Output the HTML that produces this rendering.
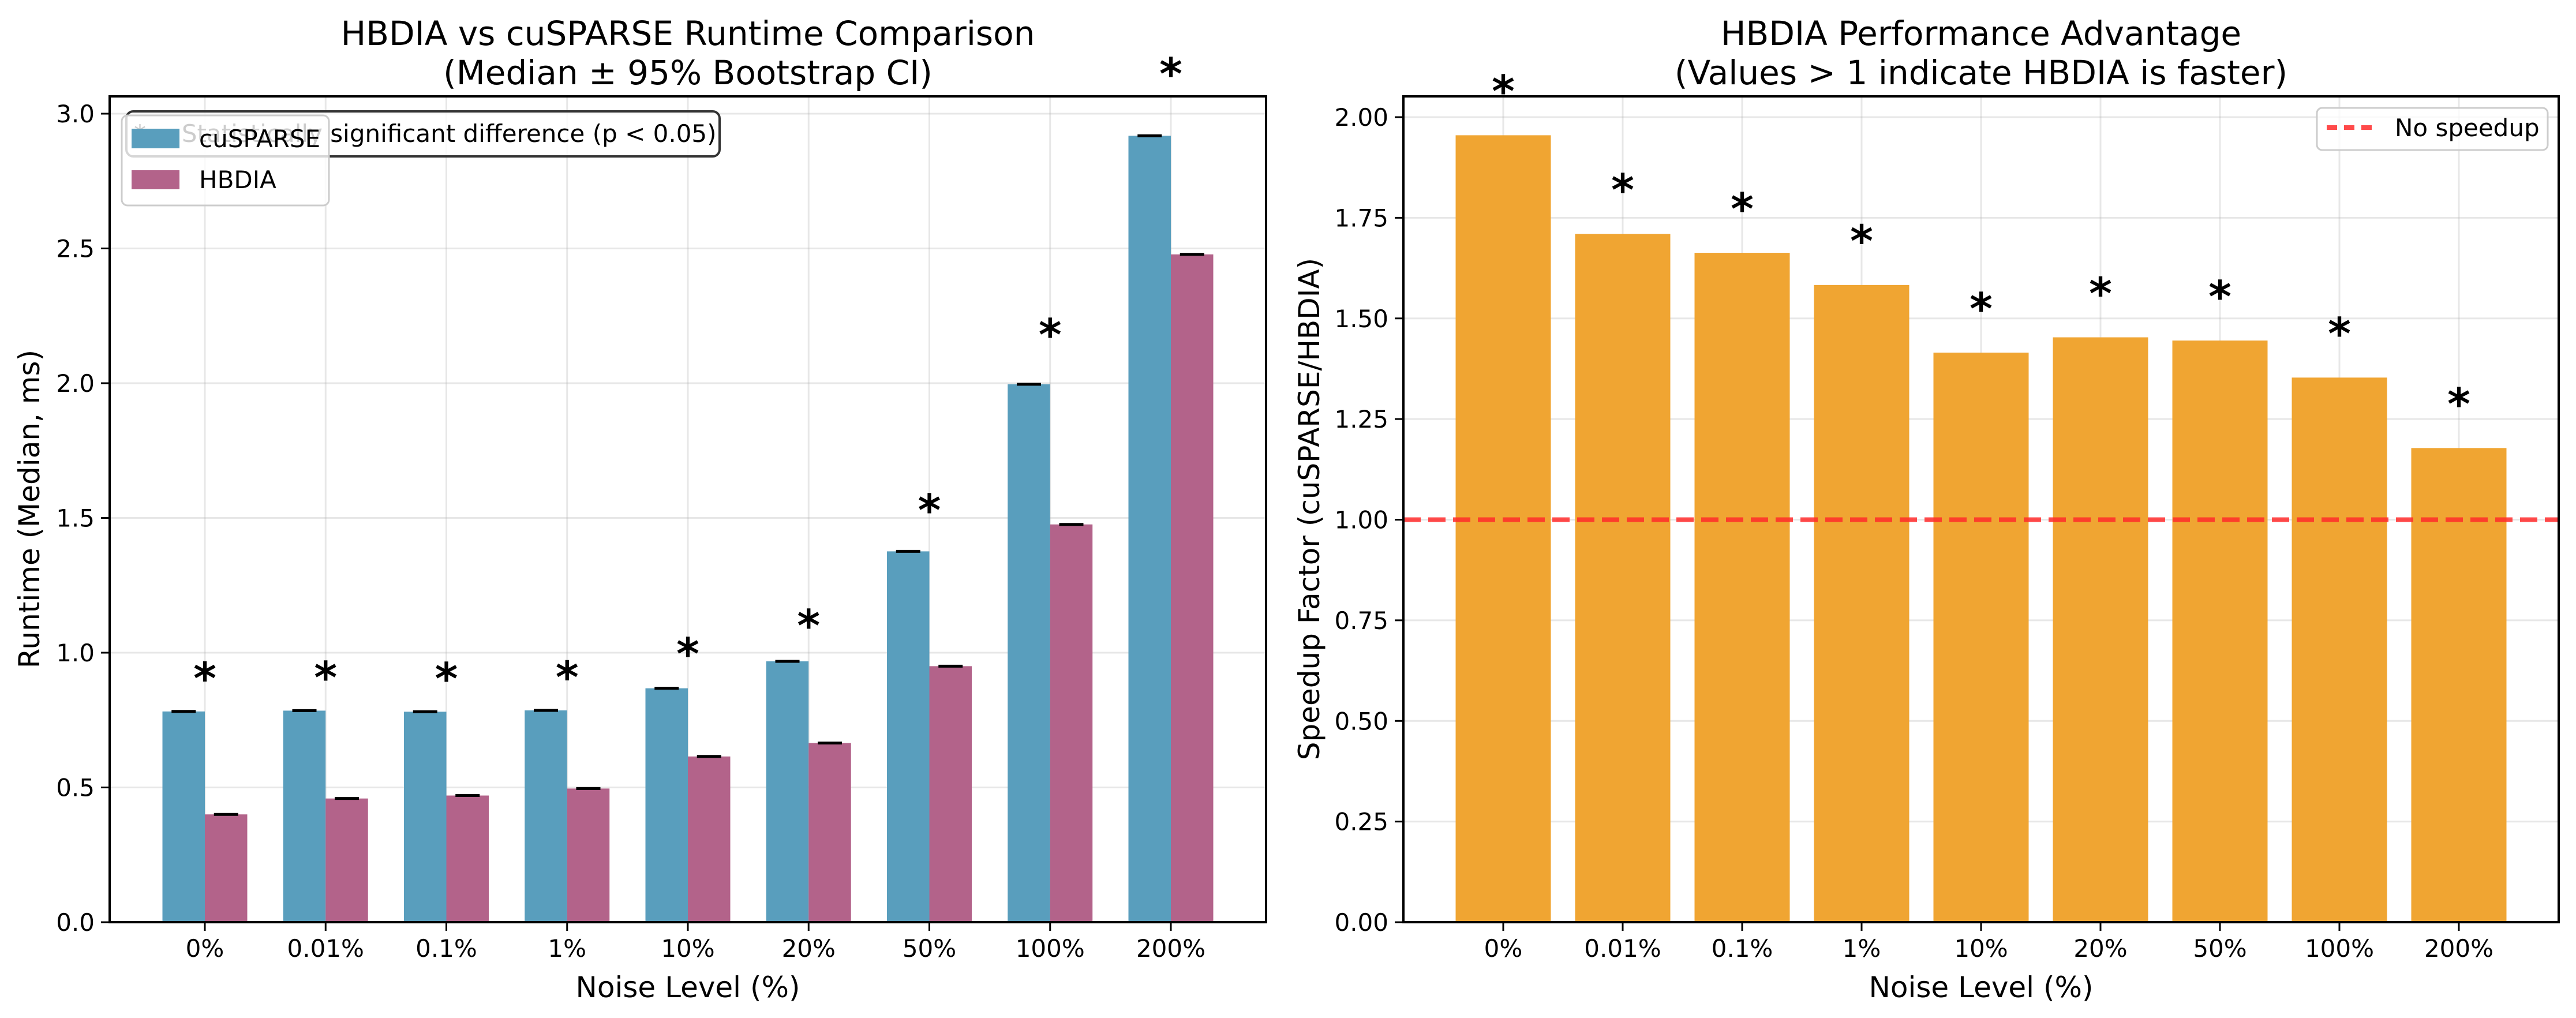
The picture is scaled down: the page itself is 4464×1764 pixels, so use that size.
<!DOCTYPE html>
<html><head><meta charset="utf-8"><style>
html,body{margin:0;padding:0;background:#fff;}
svg{display:block;font-family:"DejaVu Sans","Liberation Sans",sans-serif;}
</style></head><body>
<svg id="fig" width="4464" height="1764" viewBox="0 0 4464 1764" xmlns="http://www.w3.org/2000/svg">
<rect width="4464" height="1764" fill="#fff"/>
<g id="left"></g>
<g id="right"></g>
</svg>
<script>
const categories = ["0%","0.01%","0.1%","1%","10%","20%","50%","100%","200%"];
const cusparseValues = [0.782,0.785,0.781,0.786,0.868,0.968,1.376,1.996,2.918];
const hbdiaValues = [0.400,0.459,0.470,0.496,0.615,0.665,0.950,1.476,2.478];
const speedupValues = [1.955,1.710,1.663,1.583,1.415,1.453,1.445,1.353,1.178];
const leftTicks = [0.0,0.5,1.0,1.5,2.0,2.5,3.0];
const leftTickLabels = ["0.0","0.5","1.0","1.5","2.0","2.5","3.0"];
const rightTicks = [0,0.25,0.5,0.75,1.0,1.25,1.5,1.75,2.0];
const rightTickLabels = ["0.00","0.25","0.50","0.75","1.00","1.25","1.50","1.75","2.00"];
const baselineValue = 1.0;

const NS = "http://www.w3.org/2000/svg";
function mk(parent, tag, attrs, text){
  const e = document.createElementNS(NS, tag);
  for (const k in attrs) e.setAttribute(k, attrs[k]);
  if (text !== undefined) e.textContent = text;
  parent.appendChild(e);
  return e;
}
const BOTTOM = 1598, TOP = 167;

// ---------- LEFT ----------
(function(){
  const g = document.getElementById('left');
  const L = 190, R = 2194;
  const x = i => 355 + i * 209.25;
  const y = v => BOTTOM - v * 467;
  const bw = 73.5;
  leftTicks.forEach(t => {
    const l = mk(g,'line',{x1:L,x2:R,y1:y(t),y2:y(t),stroke:'#b0b0b0','stroke-opacity':0.3,'stroke-width':3});
    
    
  });
  categories.forEach((c,i) => {
    const l = mk(g,'line',{x1:x(i),x2:x(i),y1:TOP,y2:BOTTOM,stroke:'#b0b0b0','stroke-opacity':0.3,'stroke-width':3});
    
    
  });
  categories.forEach((c,i) => {
    const b1 = mk(g,'rect',{x:x(i)-bw,y:y(cusparseValues[i]),width:bw,height:BOTTOM-y(cusparseValues[i]),fill:'#599ebd'});
    
    
    const b2 = mk(g,'rect',{x:x(i),y:y(hbdiaValues[i]),width:bw,height:BOTTOM-y(hbdiaValues[i]),fill:'#b3638a'});
    
    
    const e1 = mk(g,'line',{x1:x(i)-bw/2-21,x2:x(i)-bw/2+21,y1:y(cusparseValues[i]),y2:y(cusparseValues[i]),stroke:'#000','stroke-width':5});
    
    
    const e2 = mk(g,'line',{x1:x(i)+bw/2-21,x2:x(i)+bw/2+21,y1:y(hbdiaValues[i]),y2:y(hbdiaValues[i]),stroke:'#000','stroke-width':5});
    
    
    const m = Math.max(cusparseValues[i],hbdiaValues[i]);
    const s = mk(g,'text',{x:x(i),y:y(m*1.05+0.1)+34,'text-anchor':'middle','font-size':76,'font-weight':'bold'},'*');
    
    
  });
  const sp = mk(g,'rect',{x:L,y:TOP,width:R-L,height:BOTTOM-TOP,fill:'none',stroke:'#000','stroke-width':4});
  
  
  leftTicks.forEach((t,k) => {
    mk(g,'line',{x1:L-15,x2:L,y1:y(t),y2:y(t),stroke:'#000','stroke-width':3});
    const tl = mk(g,'text',{x:L-26,y:y(t)+15,'text-anchor':'end','font-size':42},leftTickLabels[k]);
    
    
  });
  categories.forEach((c,i) => {
    mk(g,'line',{x1:x(i),x2:x(i),y1:BOTTOM,y2:BOTTOM+15,stroke:'#000','stroke-width':3});
    const tl = mk(g,'text',{x:x(i),y:1658,'text-anchor':'middle','font-size':42},c);
    
    
  });
  const xl = mk(g,'text',{x:(L+R)/2,y:1728,'text-anchor':'middle','font-size':50},'Noise Level (%)');
  
  
  const yl = mk(g,'text',{x:0,y:0,'text-anchor':'middle','font-size':50,transform:'translate(68,882) rotate(-90)'},'Runtime (Median, ms)');
  
  
  const t1 = mk(g,'text',{x:(L+R)/2,y:78,'text-anchor':'middle','font-size':58},'HBDIA vs cuSPARSE Runtime Comparison');
  
  
  const t2 = mk(g,'text',{x:(L+R)/2,y:146,'text-anchor':'middle','font-size':58},'(Median ± 95% Bootstrap CI)');
  
  
  const ab = mk(g,'rect',{x:219,y:193,width:1028,height:78,rx:12,fill:'#fff','fill-opacity':0.8,stroke:'#333','stroke-width':4});
  
  
  const at = mk(g,'text',{x:232,y:246,'font-size':42},'* = Statistically significant difference (p < 0.05)');
  
  
  const lg = mk(g,'g',{});
  
  
  mk(lg,'rect',{x:211,y:200,width:359,height:156,rx:10,fill:'#fff','fill-opacity':0.8,stroke:'#cccccc','stroke-width':3});
  const p1 = mk(lg,'rect',{x:228,y:223,width:83,height:34,fill:'#599ebd'});
  
  
  const l1 = mk(lg,'text',{x:345,y:255,'font-size':42},'cuSPARSE');
  
  
  const p2 = mk(lg,'rect',{x:228,y:295,width:83,height:33,fill:'#b3638a'});
  
  
  const l2 = mk(lg,'text',{x:345,y:326,'font-size':42},'HBDIA');
  
  
})();

// ---------- RIGHT ----------
(function(){
  const g = document.getElementById('right');
  const L = 2432, R = 4434;
  const x = i => 2605 + i * 207;
  const y = v => BOTTOM - v * 697.5;
  const bw = 165;
  rightTicks.forEach(t => {
    const l = mk(g,'line',{x1:L,x2:R,y1:y(t),y2:y(t),stroke:'#b0b0b0','stroke-opacity':0.3,'stroke-width':3});
    
    
  });
  categories.forEach((c,i) => {
    const l = mk(g,'line',{x1:x(i),x2:x(i),y1:TOP,y2:BOTTOM,stroke:'#b0b0b0','stroke-opacity':0.3,'stroke-width':3});
    
    
  });
  categories.forEach((c,i) => {
    const b = mk(g,'rect',{x:x(i)-bw/2,y:y(speedupValues[i]),width:bw,height:BOTTOM-y(speedupValues[i]),fill:'#f0a532'});
    
    
    const s = mk(g,'text',{x:x(i),y:y(speedupValues[i]+0.12)+34,'text-anchor':'middle','font-size':76,'font-weight':'bold'},'*');
    
    
  });
  const bl = mk(g,'line',{x1:L,x2:R,y1:y(baselineValue),y2:y(baselineValue),stroke:'#ff2a2a','stroke-opacity':0.85,'stroke-width':8,'stroke-dasharray':'30 13'});
  
  
  const sp = mk(g,'rect',{x:L,y:TOP,width:R-L,height:BOTTOM-TOP,fill:'none',stroke:'#000','stroke-width':4});
  
  
  rightTicks.forEach((t,k) => {
    mk(g,'line',{x1:L-15,x2:L,y1:y(t),y2:y(t),stroke:'#000','stroke-width':3});
    const tl = mk(g,'text',{x:L-26,y:y(t)+15,'text-anchor':'end','font-size':42},rightTickLabels[k]);
    
    
  });
  categories.forEach((c,i) => {
    mk(g,'line',{x1:x(i),x2:x(i),y1:BOTTOM,y2:BOTTOM+15,stroke:'#000','stroke-width':3});
    const tl = mk(g,'text',{x:x(i),y:1658,'text-anchor':'middle','font-size':42},c);
    
    
  });
  const xl = mk(g,'text',{x:(L+R)/2,y:1728,'text-anchor':'middle','font-size':50},'Noise Level (%)');
  
  
  const yl = mk(g,'text',{x:0,y:0,'text-anchor':'middle','font-size':50,transform:'translate(2286,882) rotate(-90)'},'Speedup Factor (cuSPARSE/HBDIA)');
  
  
  const t1 = mk(g,'text',{x:(L+R)/2,y:78,'text-anchor':'middle','font-size':58},'HBDIA Performance Advantage');
  
  
  const t2 = mk(g,'text',{x:(L+R)/2,y:146,'text-anchor':'middle','font-size':58},'(Values > 1 indicate HBDIA is faster)');
  
  
  const lg = mk(g,'g',{});
  
  
  mk(lg,'rect',{x:4015,y:187,width:400,height:73,rx:9,fill:'#fff','fill-opacity':0.8,stroke:'#cccccc','stroke-width':3});
  const ls = mk(lg,'line',{x1:4032,x2:4115,y1:221,y2:221,stroke:'#ff2a2a','stroke-opacity':0.85,'stroke-width':8,'stroke-dasharray':'18 12'});
  
  
  const lt = mk(lg,'text',{x:4150,y:236,'font-size':42},'No speedup');
  
  
})();
</script>
</body></html>
